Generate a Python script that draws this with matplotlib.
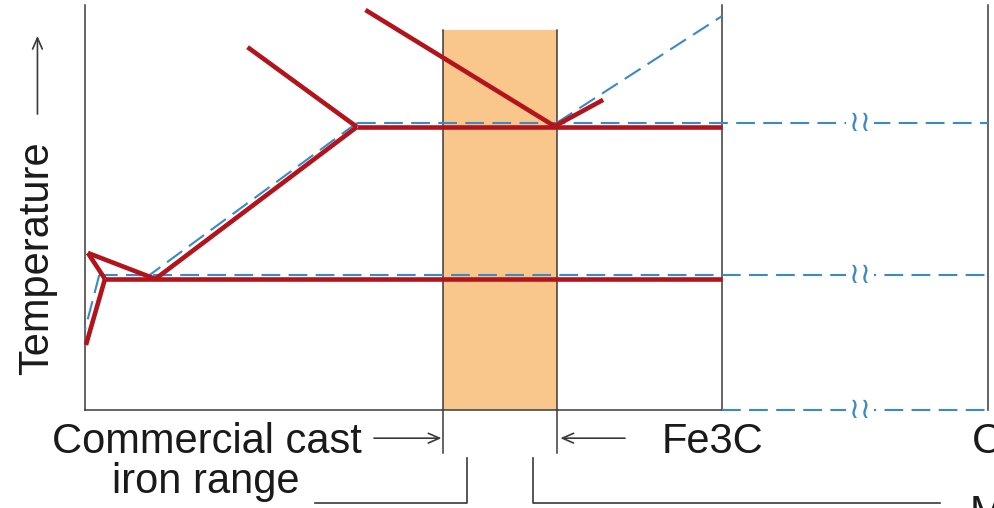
import matplotlib
matplotlib.use("Agg")
import matplotlib.pyplot as plt

plt.rcParams["font.family"] = ["Liberation Sans", "DejaVu Sans"]

# ── schematic Fe–C diagram data (wt% C, temperature in schematic °C) ──
x_fe3c = 6.7
x_graphite = 9.5
t_base = 364
t_top = 1486

# metastable (Fe–Fe3C) boundaries, solid red
red_lines = {
    "liquidus_austenite": ([1.71, 2.86], [1369, 1148]),
    "liquidus_fe3c":      ([2.95, 4.94], [1472, 1150]),
    "fe3c_extension":     ([4.94, 5.45], [1150, 1223]),
    "eutectic":           ([2.86, x_fe3c], [1148, 1148]),
    "acm":                ([2.86, 0.74], [1148, 727]),
    "a3":                 ([0.03, 0.74], [799, 727]),
    "a3_short":           ([0.03, 0.21], [799, 727]),
    "eutectoid":          ([0.21, x_fe3c], [727, 727]),
    "ferrite_solvus":     ([0.21, 0.01], [727, 544]),
}

# stable (Fe–graphite) boundaries, dashed blue
blue_lines = {
    "liquidus_graphite": ([4.96, x_fe3c], [1159, 1455]),
    "eutectic":          ([2.86, x_graphite], [1159, 1159]),
    "acm":               ([2.86, 0.68], [1159, 738]),
    "eutectoid":         ([0.15, x_graphite], [738, 738]),
    "ferrite_solvus":    ([0.15, 0.0], [738, 586]),
    "base":              ([x_fe3c, x_graphite], [t_base, t_base]),
}
break_x = 8.15
break_temps = [1159, 738, t_base]

# commercial cast iron range
cast_lo, cast_hi = 3.77, 4.96
cast_top = 1416

RED = "#b3141c"
BLUE = "#3a89c9"
GREY = "#3a3a3a"
ORANGE = "#f9c68b"
INK = "#1a1a1a"

fig = plt.figure(figsize=(9.95, 5.08), dpi=100)
ax = fig.add_axes([0, 0, 1, 1])
ax.set_xlim(-0.894, 9.572)
ax.set_ylim(92.6, 1499.6)
ax.axis("off")

# orange band + its edges
ax.fill_between([cast_lo, cast_hi], t_base, cast_top, color=ORANGE, lw=0, zorder=1)
for xe in (cast_lo, cast_hi):
    ax.plot([xe, xe], [245, cast_top], color=GREY, lw=1.1, zorder=2)

# frame
ax.plot([0, 0], [t_base, t_top], color=GREY, lw=1.1, zorder=2)
ax.plot([x_fe3c, x_fe3c], [t_base, t_top], color=GREY, lw=1.1, zorder=2)
ax.plot([x_graphite, x_graphite], [t_base, t_top], color=GREY, lw=1.1, zorder=2)
ax.plot([0, x_fe3c], [t_base, t_base], color=GREY, lw=1.1, zorder=2)

for xs, ts in blue_lines.values():
    ax.plot(xs, ts, color=BLUE, lw=1.5, dashes=(9, 4), zorder=3)

for xs, ts in red_lines.values():
    ax.plot(xs, ts, color=RED, lw=3.3, solid_capstyle="butt", zorder=4)

# axis-break marks
for tb in break_temps:
    ax.text(break_x, tb, "\u2240\u2240", color=BLUE, fontsize=21,
            family="DejaVu Sans", ha="center", va="center", zorder=5,
            bbox=dict(boxstyle="square,pad=0.1", fc="white", ec="none"))

# labels
ax.text(-0.50, 461, "Temperature", rotation=90, fontsize=30,
        ha="center", va="bottom", color=INK)
ax.annotate("", xy=(-0.50, 1408), xytext=(-0.50, 1176),
            arrowprops=dict(arrowstyle="->,head_length=0.8,head_width=0.35",
                            color=GREY, lw=1.2))

ax.text(2.91, 245, "Commercial cast", fontsize=30, ha="right", va="baseline",
        color=INK)
ax.text(1.27, 134, "iron range", fontsize=30, ha="center", va="baseline",
        color=INK)
ax.text(6.07, 245, "Fe3C", fontsize=30, ha="left", va="baseline", color=INK)
ax.text(9.33, 245, "C", fontsize=30, ha="left", va="baseline", color=INK)
ax.text(9.31, 45, "M", fontsize=30, ha="left", va="baseline", color=INK,
        clip_on=False)

ax.annotate("", xy=(cast_lo - 0.02, 286), xytext=(3.04, 286),
            arrowprops=dict(arrowstyle="->,head_length=0.8,head_width=0.35",
                            color=GREY, lw=1.2, shrinkA=0, shrinkB=0))
ax.annotate("", xy=(cast_hi + 0.04, 286), xytext=(5.68, 286),
            arrowprops=dict(arrowstyle="->,head_length=0.8,head_width=0.35",
                            color=GREY, lw=1.2, shrinkA=0, shrinkB=0))

# brackets below the band
ax.plot([4.02, 4.02, 2.42], [231, 106, 106], color=GREY, lw=1.2)
ax.plot([4.71, 4.71, 8.99], [231, 106, 106], color=GREY, lw=1.2)

fig.savefig("out.png", dpi=100)
